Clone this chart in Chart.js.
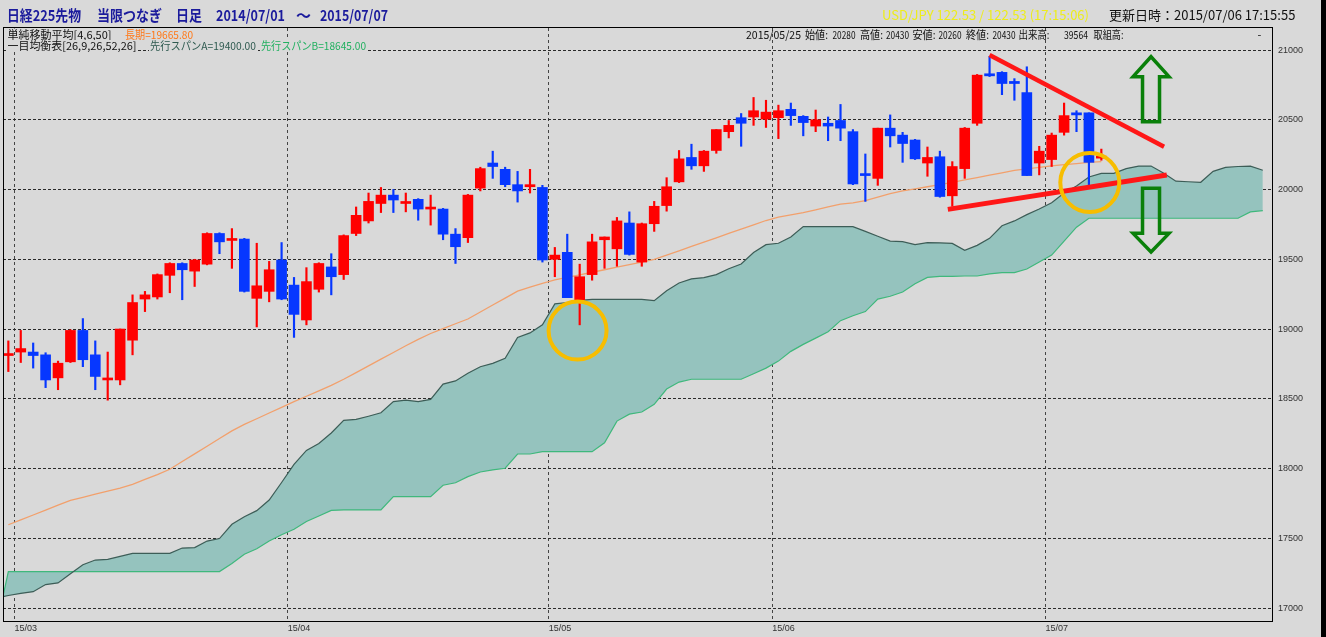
<!DOCTYPE html>
<html>
<head>
<meta charset="utf-8">
<title>日経225先物 当限つなぎ 日足</title>
<script src="https://cdn.jsdelivr.net/npm/chart.js@4.4.1/dist/chart.umd.min.js"></script>
<style>
	html, body { margin: 0; padding: 0; background: #d9d9d9; overflow: hidden; }
	canvas { display: block; }
</style>
</head>
<body>
<canvas id="chart-nikkei" width="1326" height="637"></canvas>
<script>
// ----------------------------------------------
// Data, one candle per trading day from 2015/02/27
// ----------------------------------------------
const OPENS = [
	18810, 18835, 18835, 18815, 18650, 18765, 18990, 18815, 18635, 18635,
	18920, 19215, 19230, 19385, 19470, 19415, 19465, 19685, 19635, 19645,
	19220, 19270, 19495, 19315, 19065, 19285, 19445, 19390, 19685, 19775,
	19900, 19960, 19900, 19930, 19860, 19860, 19680, 19655, 20010, 20190,
	20145, 20035, 20020, 20015, 19500, 19550, 19210, 19390, 19640, 19575,
	19760, 19480, 19755, 19885, 20055, 20230, 20170, 20280, 20415, 20515,
	20520, 20505, 20515, 20575, 20525, 20455, 20475, 20495, 20415, 20110,
	20080, 20440, 20390, 20355, 20190, 20235, 19955, 20150, 20475, 20830,
	20840, 20775, 20695, 20190, 20215, 20410, 20550, 20550, 20225,
];
const HIGHS = [
	18915, 18990, 18900, 18830, 18770, 18995, 19075, 18915, 18835, 19000,
	19245, 19270, 19395, 19475, 19475, 19500, 19690, 19690, 19720, 19650,
	19615, 19485, 19620, 19370, 19440, 19475, 19540, 19675, 19875, 19975,
	20015, 20000, 19975, 19935, 19960, 19865, 19720, 19965, 20160, 20275,
	20160, 20130, 20145, 20030, 19585, 19680, 19465, 19680, 19660, 19800,
	19840, 19760, 19915, 20085, 20280, 20325, 20280, 20430, 20495, 20545,
	20660, 20640, 20605, 20620, 20530, 20570, 20520, 20610, 20430, 20255,
	20440, 20535, 20410, 20360, 20305, 20275, 20200, 20445, 20825, 20955,
	20845, 20795, 20880, 20310, 20405, 20620, 20565, 20550, 20290,
];
const LOWS = [
	18695, 18760, 18720, 18580, 18565, 18760, 18730, 18565, 18490, 18600,
	18815, 19125, 19215, 19260, 19210, 19305, 19460, 19540, 19435, 19265,
	19015, 19195, 19210, 18940, 19030, 19265, 19245, 19355, 19670, 19760,
	19835, 19835, 19840, 19780, 19745, 19640, 19470, 19620, 19990, 20080,
	20020, 19910, 19975, 19480, 19375, 19225, 19030, 19350, 19435, 19450,
	19530, 19450, 19700, 19845, 20050, 20145, 20130, 20260, 20370, 20310,
	20460, 20445, 20365, 20460, 20385, 20415, 20350, 20350, 20035, 19915,
	20030, 20305, 20195, 20215, 20095, 19945, 19880, 20080, 20460, 20810,
	20680, 20640, 20100, 20105, 20165, 20390, 20415, 20030, 20210,
];
const CLOSES = [
	18815, 18860, 18810, 18635, 18755, 18990, 18780, 18660, 18640, 19000,
	19190, 19245, 19390, 19470, 19425, 19495, 19685, 19625, 19640, 19270,
	19310, 19425, 19215, 19105, 19340, 19470, 19375, 19670, 19815, 19915,
	19960, 19925, 19905, 19860, 19865, 19680, 19590, 19960, 20150, 20165,
	20035, 19990, 20035, 19495, 19530, 19225, 19375, 19625, 19660, 19775,
	19535, 19755, 19880, 20020, 20220, 20170, 20275, 20430, 20460, 20475,
	20565, 20555, 20565, 20530, 20480, 20500, 20455, 20440, 20040, 20100,
	20440, 20385, 20330, 20220, 20230, 19950, 20165, 20440, 20820, 20815,
	20760, 20760, 20100, 20275, 20390, 20530, 20535, 20195, 20235,
];

// 50-day moving average
const MA_LONG = [
	17597, 17632, 17667, 17702, 17737, 17771, 17794, 17816, 17838, 17860,
	17887, 17922, 17957, 17995, 18050, 18105, 18160, 18215, 18270, 18316,
	18357, 18398, 18439, 18479, 18518, 18557, 18596, 18640, 18688, 18736,
	18784, 18832, 18880, 18926, 18968, 19003, 19038, 19072, 19122, 19172,
	19222, 19272, 19301, 19327, 19353, 19371, 19389, 19407, 19425, 19443,
	19461, 19479, 19500, 19530, 19561, 19592, 19623, 19654, 19685, 19716,
	19747, 19778, 19802, 19818, 19834, 19855, 19875, 19895, 19905, 19920,
	19945, 19970, 19990, 20005, 20020, 20035, 20052, 20069, 20086, 20103,
	20120, 20137, 20148, 20159, 20170, 20178, 20186, 20194, 20200,
];

// Ichimoku leading spans, starting one day before the first candle
const CLOUD_START = -1;
const SPAN_A = [
	17070, 17090, 17105, 17117, 17168, 17180, 17245, 17310, 17344, 17349,
	17370, 17392, 17392, 17392, 17392, 17430, 17433, 17480, 17498, 17600,
	17655, 17698, 17774, 17900, 18030, 18130, 18180, 18255, 18345, 18352,
	18375, 18400, 18480, 18491, 18479, 18496, 18605, 18628, 18683, 18730,
	18754, 18790, 18940, 18972, 19030, 19180, 19190, 19205, 19212, 19212,
	19212, 19212, 19212, 19203, 19275, 19330, 19360, 19368, 19390, 19432,
	19466, 19548, 19605, 19615, 19660, 19734, 19734, 19734, 19734, 19734,
	19700, 19665, 19630, 19626, 19605, 19620, 19618, 19614, 19565, 19600,
	19650, 19740, 19775, 19820, 19860, 19905, 19975, 20025, 20090, 20116,
	20116, 20150, 20168, 20168, 20118, 20060, 20056, 20052, 20130, 20159,
	20165, 20168, 20138,
];
const SPAN_B = [
	16850, 17261, 17261, 17261, 17261, 17261, 17261, 17261, 17261, 17261,
	17261, 17261, 17261, 17261, 17261, 17261, 17261, 17261, 17261, 17320,
	17385, 17425, 17480, 17525, 17565, 17620, 17660, 17700, 17703, 17703,
	17703, 17703, 17798, 17798, 17798, 17798, 17880, 17898, 17942, 17975,
	17990, 18002, 18104, 18104, 18121, 18121, 18121, 18121, 18121, 18185,
	18340, 18390, 18405, 18460, 18570, 18620, 18640, 18640, 18640, 18640,
	18640, 18680, 18720, 18770, 18840, 18890, 18935, 18981, 19060, 19095,
	19125, 19215, 19235, 19265, 19325, 19370, 19377, 19378, 19380, 19380,
	19395, 19404, 19404, 19430, 19480, 19530, 19630, 19730, 19794, 19794,
	19794, 19794, 19794, 19794, 19794, 19794, 19794, 19794, 19794, 19794,
	19794, 19840, 19849,
];

// Month ticks sit between the last day of a month and the first of the next
const MONTH_TICKS = [0.5, 22.5, 43.5, 61.5, 83.5];
const MONTH_LABELS = ["15/03", "15/04", "15/05", "15/06", "15/07"];
const PRICE_TICKS = [17000, 17500, 18000, 18500, 19000, 19500, 20000, 20500, 21000];

// Day shown in the info row
const CURSOR = 57;
const CURSOR_DATE = "2015/05/25";

const COLORS = {
	bg: "#d9d9d9",
	up: "#ff0000",
	down: "#0637ff",
	ma: "#f2a06c",
	spanA: "#3d5d57",
	spanB: "#3fb87c",
	cloud: "#95c3be",
	grid: "#2a2a2a",
	title: "#1a1a9c",
	trend: "#ff1717",
	ring: "#f7bd00",
	arrow: "#0a800a",
};

const CANDLE_COLORS = CLOSES.map((c, i) => (c >= OPENS[i] ? COLORS.up : COLORS.down));

// ----------------------------------------------
// Header texts, frame and hand drawn notes
// ----------------------------------------------
const putText = (ctx, str, x, y, maxW, color, font, mask) => {
	ctx.font = font;
	const w = Math.min(ctx.measureText(str).width, maxW);
	if (mask) {
		ctx.fillStyle = COLORS.bg;
		ctx.fillRect(x - 1, y - 6, w + 2, 12);
	}
	ctx.fillStyle = color;
	ctx.fillText(str, x, y, maxW);
};

const arrow = (ctx, x, yTip, yHead, yEnd) => {
	const hw = 18;
	const sw = 8.5;
	ctx.beginPath();
	ctx.moveTo(x, yTip);
	ctx.lineTo(x + hw, yHead);
	ctx.lineTo(x + sw, yHead);
	ctx.lineTo(x + sw, yEnd);
	ctx.lineTo(x - sw, yEnd);
	ctx.lineTo(x - sw, yHead);
	ctx.lineTo(x - hw, yHead);
	ctx.closePath();
	ctx.stroke();
};

const chrome = {
	id: "chrome",
	beforeDraw(chart) {
		const { ctx, width, height } = chart;
		ctx.save();
		ctx.fillStyle = COLORS.bg;
		ctx.fillRect(0, 0, width, height);
		ctx.restore();
	},
	afterDatasetsDraw(chart) {
		const { ctx, scales: { x, y } } = chart;
		const px = (i) => x.getPixelForValue(i);
		const py = (v) => y.getPixelForValue(v);

		ctx.save();
		ctx.lineCap = "butt";

		// trend lines
		ctx.strokeStyle = COLORS.trend;
		ctx.lineWidth = 4.5;
		ctx.beginPath();
		ctx.moveTo(px(79.0), py(20964));
		ctx.lineTo(px(93.05), py(20307));
		ctx.stroke();
		ctx.lineWidth = 5;
		ctx.beginPath();
		ctx.moveTo(px(75.64), py(19858));
		ctx.lineTo(px(93.27), py(20104));
		ctx.stroke();

		// rings
		ctx.strokeStyle = COLORS.ring;
		ctx.lineWidth = 4;
		ctx.beginPath();
		ctx.arc(px(45.83), py(18989), 29, 0, Math.PI * 2);
		ctx.stroke();
		ctx.beginPath();
		ctx.arc(px(87.07), py(20050), 29.5, 0, Math.PI * 2);
		ctx.stroke();

		// up / down arrows
		ctx.strokeStyle = COLORS.arrow;
		ctx.lineWidth = 3.5;
		ctx.lineJoin = "miter";
		arrow(ctx, px(92.0), py(20952), py(20809), py(20486));
		arrow(ctx, px(92.0), py(19552), py(19686), py(20009));
		ctx.restore();
	},
	afterDraw(chart) {
		const { ctx, chartArea: a } = chart;
		ctx.save();
		ctx.textBaseline = "middle";
		ctx.textAlign = "left";

		// frame
		ctx.strokeStyle = "#000";
		ctx.lineWidth = 1;
		ctx.strokeRect(Math.round(a.left) + 0.5, Math.round(a.top) - 0.5, Math.round(a.right - a.left), Math.round(a.bottom - a.top) + 1);

		// title row
		const tf = 'bold 15px "Noto Sans CJK JP"';
		putText(ctx, "日経225先物", 7, 15, 74, COLORS.title, tf);
		putText(ctx, "当限つなぎ", 97, 15, 65, COLORS.title, tf);
		putText(ctx, "日足", 176, 15, 26, COLORS.title, tf);
		putText(ctx, "2014/07/01", 216, 15, 69, COLORS.title, tf);
		putText(ctx, "～", 296, 15, 15, COLORS.title, tf);
		putText(ctx, "2015/07/07", 320, 15, 68, COLORS.title, tf);
		const hf = '13px "Noto Sans CJK JP"';
		putText(ctx, "USD/JPY 122.53 / 122.53 (17:15:06)", 882, 15, 222, "#eded1c", hf);
		putText(ctx, "更新日時：2015/07/06 17:15:55", 1109, 15, 197, "#111", hf);

		// indicator legend
		const lf = '11px "Noto Sans CJK JP"';
		putText(ctx, "単純移動平均[4,6,50]", 7.5, 34.5, 104, "#111", lf, true);
		putText(ctx, "長期=19665.80", 125, 34.5, 68, "#ff7818", lf, true);
		putText(ctx, "一目均衡表[26,9,26,52,26]", 7.5, 46, 129, "#111", lf, true);
		putText(ctx, "先行スパンA=19400.00", 150, 46, 106, "#2f5a50", lf, true);
		putText(ctx, "先行スパンB=18645.00", 261, 46, 105, "#22b060", lf, true);

		// info row for the cursor day
		const info = [
			[CURSOR_DATE, 746, 55],
			["始値:", 805, 23],
			[String(OPENS[CURSOR]), 832.5, 23],
			["高値:", 860, 23],
			[String(HIGHS[CURSOR]), 886, 23],
			["安値:", 912.5, 23],
			[String(LOWS[CURSOR]), 938.5, 23],
			["終値:", 966, 23],
			[String(CLOSES[CURSOR]), 992.5, 23],
			["出来高:", 1018.5, 31],
			["39564", 1064, 24],
			["取組高:", 1093.5, 30],
			["-", 1257.5, 4],
		];
		info.forEach(([s, x, w]) => putText(ctx, s, x, 35, w, "#111", lf));

		// window edge on the right
		ctx.fillStyle = "#000";
		ctx.fillRect(1321, 0, 5, 637);
		ctx.restore();
	},
};

// ----------------------------------------------
// Chart
// ----------------------------------------------
const CHART_DATA = {
	datasets: [
		{
			label: "body",
			data: OPENS.map((o, i) => ({ x: i, y: [o, CLOSES[i]] })),
			backgroundColor: CANDLE_COLORS,
			borderWidth: 0,
			barThickness: 10,
			minBarLength: 2,
			grouped: false,
			order: 0,
		},
		{
			label: "wick",
			data: LOWS.map((l, i) => ({ x: i, y: [l, HIGHS[i]] })),
			backgroundColor: CANDLE_COLORS,
			borderWidth: 0,
			barThickness: 1.5,
			grouped: false,
			order: 1,
		},
		{
			type: "line",
			label: "ma",
			data: MA_LONG.map((v, i) => ({ x: i, y: v })),
			borderColor: COLORS.ma,
			borderWidth: 1.3,
			pointRadius: 0,
			fill: false,
			order: 2,
		},
		{
			type: "line",
			label: "spanA",
			data: SPAN_A.map((v, k) => ({ x: k + CLOUD_START, y: v })),
			borderColor: COLORS.spanA,
			borderWidth: 1.2,
			pointRadius: 0,
			fill: "+1",
			backgroundColor: COLORS.cloud,
			order: 3,
		},
		{
			type: "line",
			label: "spanB",
			data: SPAN_B.map((v, k) => ({ x: k + CLOUD_START, y: v })),
			borderColor: COLORS.spanB,
			borderWidth: 1.2,
			pointRadius: 0,
			fill: false,
			order: 4,
		},
	],
};

const CHART_CONFIG = {
	type: "bar",
	data: CHART_DATA,
	options: {
		responsive: false,
		animation: false,
		events: [],
		devicePixelRatio: 1,
		layout: {
			padding: { left: 3, top: 28, right: 0, bottom: 0 },
		},
		plugins: {
			legend: { display: false },
			title: { display: false },
			tooltip: { enabled: false },
			filler: { drawTime: "beforeDatasetsDraw" },
		},
		scales: {
			x: {
				type: "linear",
				min: -0.43,
				max: 101.74,
				offset: false,
				afterBuildTicks: (scale) => {
					scale.ticks = MONTH_TICKS.map((v) => ({ value: v }));
				},
				afterFit: (scale) => {
					scale.height = 16;
				},
				border: { display: false, dash: [3, 3] },
				grid: {
					offset: false,
					color: "#444",
					drawTicks: false,
				},
				ticks: {
					autoSkip: false,
					maxRotation: 0,
					align: "start",
					padding: 2,
					color: "#333",
					font: { family: '"Liberation Sans", Arial, sans-serif', size: 9 },
					callback: (value, index) => MONTH_LABELS[index],
				},
			},
			y: {
				position: "right",
				min: 16907,
				max: 21158,
				afterBuildTicks: (scale) => {
					scale.ticks = PRICE_TICKS.map((v) => ({ value: v }));
				},
				afterFit: (scale) => {
					scale.width = 54;
				},
				border: { display: false, dash: [3, 2] },
				grid: {
					color: COLORS.grid,
					drawTicks: false,
				},
				ticks: {
					padding: 6,
					color: "#333",
					font: { family: '"Liberation Sans", Arial, sans-serif', size: 9 },
					callback: (value) => String(value),
				},
			},
		},
	},
	plugins: [chrome],
};

const CHART_WRAPPER = document.getElementById("chart-nikkei");
if (CHART_WRAPPER) {
	new Chart(CHART_WRAPPER, CHART_CONFIG);
}
</script>
</body>
</html>
